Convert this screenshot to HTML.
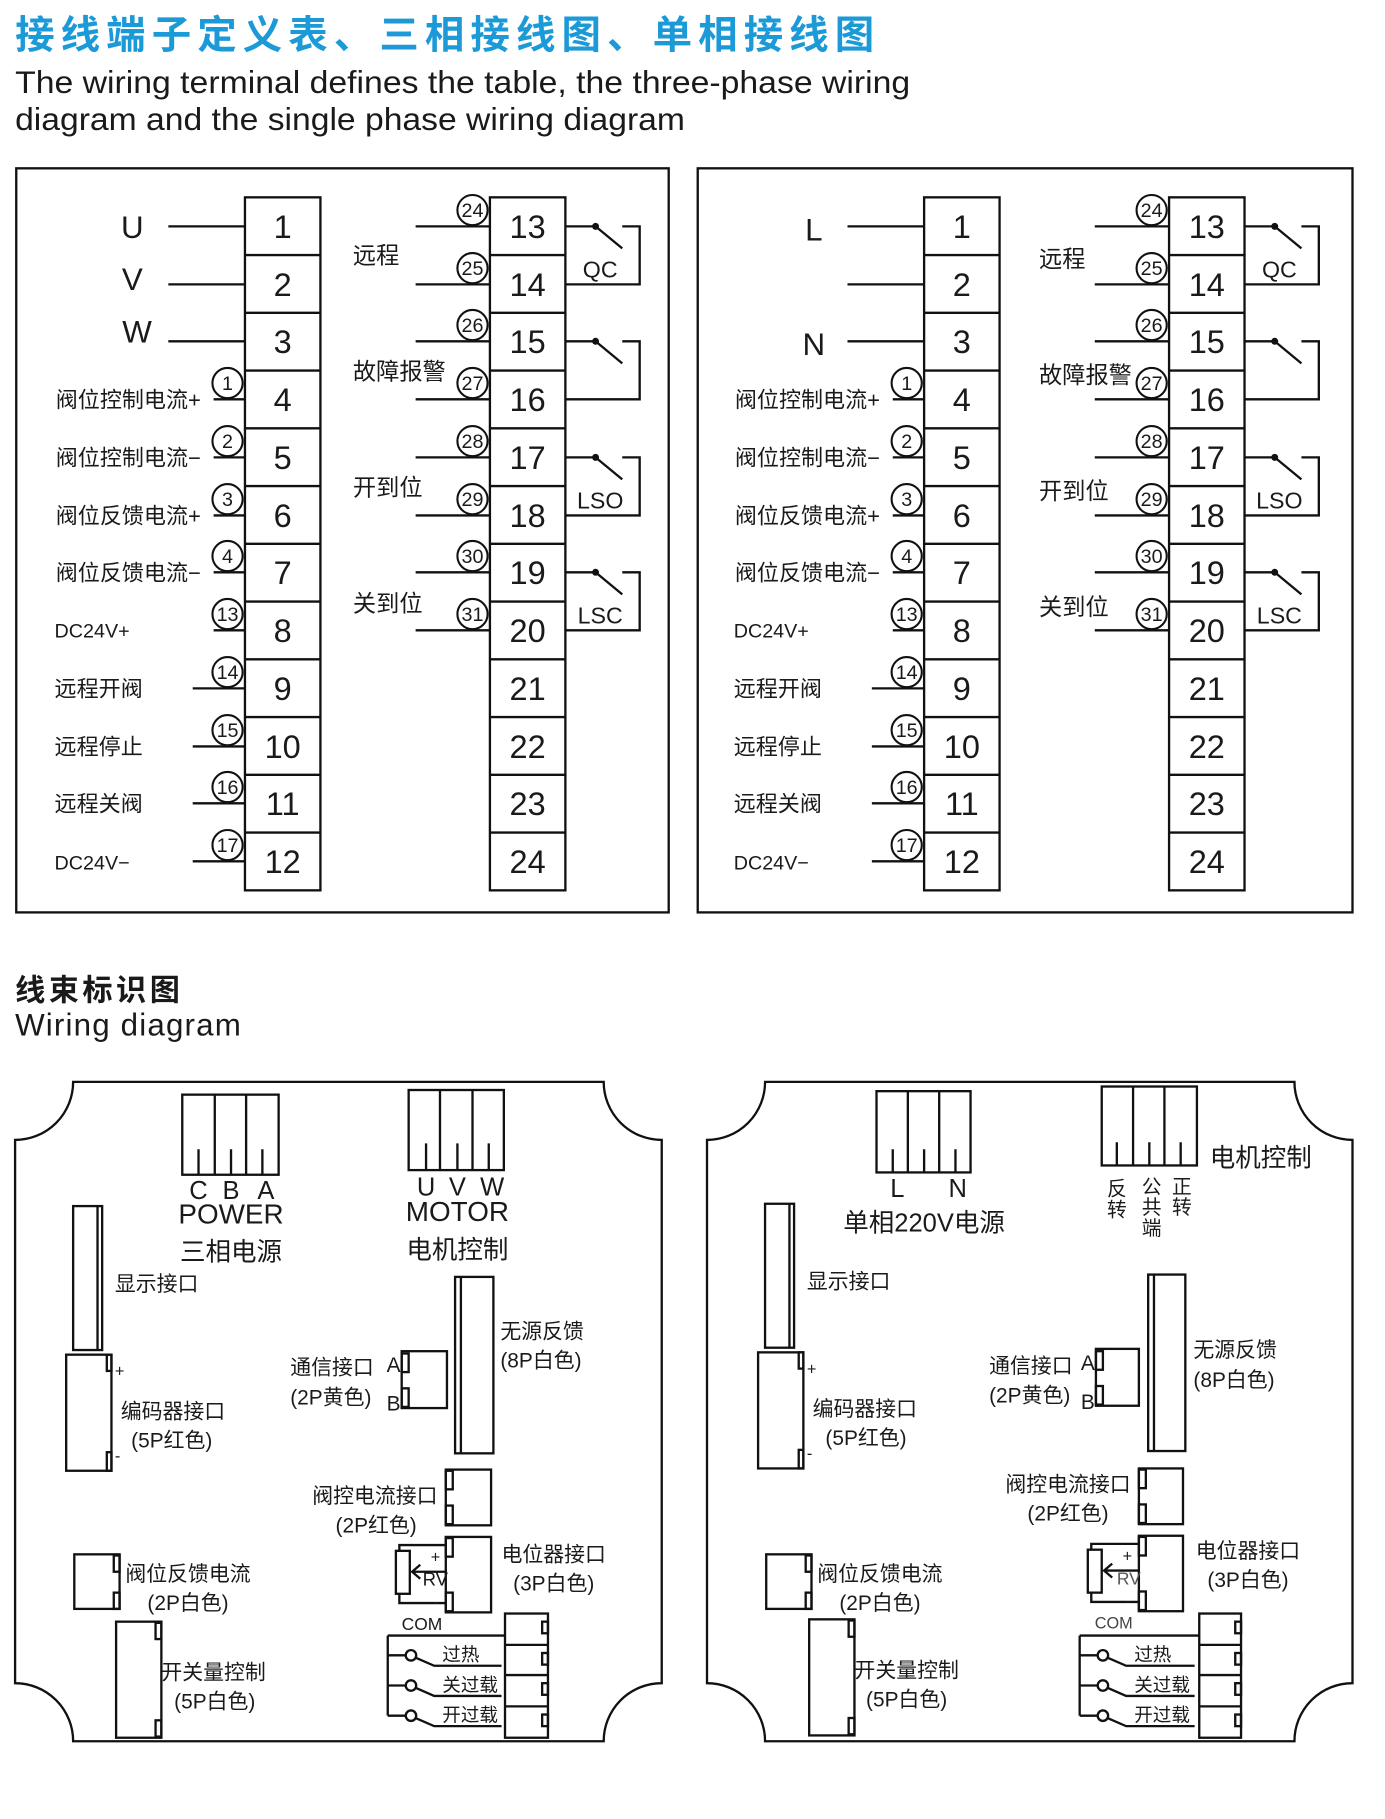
<!DOCTYPE html>
<html><head><meta charset="utf-8"><style>
html,body{margin:0;padding:0;background:#fff;}
svg{display:block;}
text{font-family:"Liberation Sans","Noto Sans CJK SC",sans-serif;fill:#1a1a1a;}
.n{font-size:28px;text-anchor:middle;}
.c{font-size:17px;text-anchor:middle;}
.l{font-size:19px;}
.s{font-size:20px;}
.m{font-size:18px;}
</style></head><body>
<svg width="1385" height="1819" viewBox="0 0 1193 1567" preserveAspectRatio="none" xmlns="http://www.w3.org/2000/svg">
<text x="13" y="42" style="font-size:34px;fill:#1b9ad7;font-weight:bold;letter-spacing:4px" textLength="744">接线端子定义表、三相接线图、单相接线图</text>
<text x="13" y="80" style="font-size:27px" textLength="771" lengthAdjust="spacingAndGlyphs">The wiring terminal defines the table, the three-phase wiring</text>
<text x="13" y="112" style="font-size:27px" textLength="577" lengthAdjust="spacingAndGlyphs">diagram and the single phase wiring diagram</text>

<!-- ============ TABLE 1 ============ -->
<g stroke="#111" stroke-width="2" fill="#fff">
<rect x="14" y="145" width="562" height="641" fill="none"/>
<rect x="211" y="170" width="65" height="597"/>
<rect x="422" y="170" width="65" height="597"/>
</g>
<g stroke="#111" stroke-width="2">
<line x1="211" y1="219.75" x2="276" y2="219.75"/><line x1="211" y1="269.5" x2="276" y2="269.5"/><line x1="211" y1="319.25" x2="276" y2="319.25"/><line x1="211" y1="369" x2="276" y2="369"/><line x1="211" y1="418.75" x2="276" y2="418.75"/><line x1="211" y1="468.5" x2="276" y2="468.5"/><line x1="211" y1="518.25" x2="276" y2="518.25"/><line x1="211" y1="568" x2="276" y2="568"/><line x1="211" y1="617.75" x2="276" y2="617.75"/><line x1="211" y1="667.5" x2="276" y2="667.5"/><line x1="211" y1="717.25" x2="276" y2="717.25"/>
<line x1="422" y1="219.75" x2="487" y2="219.75"/><line x1="422" y1="269.5" x2="487" y2="269.5"/><line x1="422" y1="319.25" x2="487" y2="319.25"/><line x1="422" y1="369" x2="487" y2="369"/><line x1="422" y1="418.75" x2="487" y2="418.75"/><line x1="422" y1="468.5" x2="487" y2="468.5"/><line x1="422" y1="518.25" x2="487" y2="518.25"/><line x1="422" y1="568" x2="487" y2="568"/><line x1="422" y1="617.75" x2="487" y2="617.75"/><line x1="422" y1="667.5" x2="487" y2="667.5"/><line x1="422" y1="717.25" x2="487" y2="717.25"/>
<line x1="145" y1="195" x2="211" y2="195"/><line x1="145" y1="245" x2="211" y2="245"/><line x1="145" y1="294" x2="211" y2="294"/>
<line x1="184" y1="344" x2="211" y2="344"/><line x1="184" y1="394" x2="211" y2="394"/><line x1="184" y1="444" x2="211" y2="444"/><line x1="184" y1="493" x2="211" y2="493"/><line x1="184" y1="543" x2="211" y2="543"/>
<line x1="166" y1="593" x2="211" y2="593"/><line x1="166" y1="643" x2="211" y2="643"/><line x1="166" y1="692" x2="211" y2="692"/><line x1="166" y1="742" x2="211" y2="742"/>
<line x1="358" y1="195" x2="422" y2="195"/><line x1="358" y1="245" x2="422" y2="245"/><line x1="358" y1="294" x2="422" y2="294"/><line x1="358" y1="344" x2="422" y2="344"/><line x1="358" y1="394" x2="422" y2="394"/><line x1="358" y1="444" x2="422" y2="444"/><line x1="358" y1="493" x2="422" y2="493"/><line x1="358" y1="543" x2="422" y2="543"/>
</g>
<g stroke="#111" stroke-width="1.8" fill="#fff">
<circle cx="196" cy="330" r="13"/><circle cx="196" cy="380" r="13"/><circle cx="196" cy="430" r="13"/><circle cx="196" cy="479" r="13"/><circle cx="196" cy="529" r="13"/><circle cx="196" cy="579" r="13"/><circle cx="196" cy="629" r="13"/><circle cx="196" cy="678" r="13"/><circle cx="196" cy="728" r="13"/>
<circle cx="407" cy="181" r="13"/><circle cx="407" cy="231" r="13"/><circle cx="407" cy="280" r="13"/><circle cx="407" cy="330" r="13"/><circle cx="407" cy="380" r="13"/><circle cx="407" cy="430" r="13"/><circle cx="407" cy="479" r="13"/><circle cx="407" cy="529" r="13"/>
</g>
<g>
<text class="c" x="196" y="336">1</text><text class="c" x="196" y="386">2</text><text class="c" x="196" y="436">3</text><text class="c" x="196" y="485">4</text><text class="c" x="196" y="535">13</text><text class="c" x="196" y="585">14</text><text class="c" x="196" y="635">15</text><text class="c" x="196" y="684">16</text><text class="c" x="196" y="734">17</text>
<text class="c" x="407" y="187">24</text><text class="c" x="407" y="237">25</text><text class="c" x="407" y="286">26</text><text class="c" x="407" y="336">27</text><text class="c" x="407" y="386">28</text><text class="c" x="407" y="436">29</text><text class="c" x="407" y="485">30</text><text class="c" x="407" y="535">31</text>
<text class="n" x="243.5" y="205">1</text><text class="n" x="243.5" y="255">2</text><text class="n" x="243.5" y="304">3</text><text class="n" x="243.5" y="354">4</text><text class="n" x="243.5" y="404">5</text><text class="n" x="243.5" y="454">6</text><text class="n" x="243.5" y="503">7</text><text class="n" x="243.5" y="553">8</text><text class="n" x="243.5" y="603">9</text><text class="n" x="243.5" y="653">10</text><text class="n" x="243.5" y="702">11</text><text class="n" x="243.5" y="752">12</text>
<text class="n" x="454.5" y="205">13</text><text class="n" x="454.5" y="255">14</text><text class="n" x="454.5" y="304">15</text><text class="n" x="454.5" y="354">16</text><text class="n" x="454.5" y="404">17</text><text class="n" x="454.5" y="454">18</text><text class="n" x="454.5" y="503">19</text><text class="n" x="454.5" y="553">20</text><text class="n" x="454.5" y="603">21</text><text class="n" x="454.5" y="653">22</text><text class="n" x="454.5" y="702">23</text><text class="n" x="454.5" y="752">24</text>
<text x="114" y="205" style="font-size:27px;text-anchor:middle">U</text><text x="114" y="250" style="font-size:27px;text-anchor:middle">V</text><text x="118" y="295" style="font-size:27px;text-anchor:middle">W</text>
<text class="l" x="48" y="351">阀位控制电流+</text><text class="l" x="48" y="401">阀位控制电流−</text><text class="l" x="48" y="451">阀位反馈电流+</text><text class="l" x="48" y="500">阀位反馈电流−</text>
<text x="47" y="549" style="font-size:17px">DC24V+</text><text class="l" x="47" y="600">远程开阀</text><text class="l" x="47" y="650">远程停止</text><text class="l" x="47" y="699">远程关阀</text><text x="47" y="749" style="font-size:17px">DC24V−</text>
<text class="s" x="304" y="227">远程</text><text class="s" x="304" y="327">故障报警</text><text class="s" x="304" y="427">开到位</text><text class="s" x="304" y="527">关到位</text>
<text class="s" x="517" y="239" text-anchor="middle">QC</text><text class="s" x="517" y="438" text-anchor="middle">LSO</text><text class="s" x="517" y="537" text-anchor="middle">LSC</text>
</g>
<g stroke="#111" stroke-width="2" fill="none">
<path d="M487 195H513L536 214M536 195H551V245H487"/>
<path d="M487 294H513L536 313M536 294H551V344H487"/>
<path d="M487 394H513L536 413M536 394H551V444H487"/>
<path d="M487 493H513L536 512M536 493H551V543H487"/>
</g>
<g fill="#111"><circle cx="513" cy="195" r="3"/><circle cx="513" cy="294" r="3"/><circle cx="513" cy="394" r="3"/><circle cx="513" cy="493" r="3"/></g>

<!-- ============ TABLE 2 ============ -->
<g transform="translate(587,0)">
<g stroke="#111" stroke-width="2" fill="#fff">
<rect x="14" y="145" width="564" height="641" fill="none"/>
<rect x="209" y="170" width="65" height="597"/>
<rect x="420" y="170" width="65" height="597"/>
</g>
<g stroke="#111" stroke-width="2">
<line x1="209" y1="219.75" x2="274" y2="219.75"/><line x1="209" y1="269.5" x2="274" y2="269.5"/><line x1="209" y1="319.25" x2="274" y2="319.25"/><line x1="209" y1="369" x2="274" y2="369"/><line x1="209" y1="418.75" x2="274" y2="418.75"/><line x1="209" y1="468.5" x2="274" y2="468.5"/><line x1="209" y1="518.25" x2="274" y2="518.25"/><line x1="209" y1="568" x2="274" y2="568"/><line x1="209" y1="617.75" x2="274" y2="617.75"/><line x1="209" y1="667.5" x2="274" y2="667.5"/><line x1="209" y1="717.25" x2="274" y2="717.25"/>
<line x1="420" y1="219.75" x2="485" y2="219.75"/><line x1="420" y1="269.5" x2="485" y2="269.5"/><line x1="420" y1="319.25" x2="485" y2="319.25"/><line x1="420" y1="369" x2="485" y2="369"/><line x1="420" y1="418.75" x2="485" y2="418.75"/><line x1="420" y1="468.5" x2="485" y2="468.5"/><line x1="420" y1="518.25" x2="485" y2="518.25"/><line x1="420" y1="568" x2="485" y2="568"/><line x1="420" y1="617.75" x2="485" y2="617.75"/><line x1="420" y1="667.5" x2="485" y2="667.5"/><line x1="420" y1="717.25" x2="485" y2="717.25"/>
<line x1="143" y1="195" x2="209" y2="195"/><line x1="143" y1="245" x2="209" y2="245"/><line x1="143" y1="294" x2="209" y2="294"/>
<line x1="182" y1="344" x2="209" y2="344"/><line x1="182" y1="394" x2="209" y2="394"/><line x1="182" y1="444" x2="209" y2="444"/><line x1="182" y1="493" x2="209" y2="493"/><line x1="182" y1="543" x2="209" y2="543"/>
<line x1="164" y1="593" x2="209" y2="593"/><line x1="164" y1="643" x2="209" y2="643"/><line x1="164" y1="692" x2="209" y2="692"/><line x1="164" y1="742" x2="209" y2="742"/>
<line x1="356" y1="195" x2="420" y2="195"/><line x1="356" y1="245" x2="420" y2="245"/><line x1="356" y1="294" x2="420" y2="294"/><line x1="356" y1="344" x2="420" y2="344"/><line x1="356" y1="394" x2="420" y2="394"/><line x1="356" y1="444" x2="420" y2="444"/><line x1="356" y1="493" x2="420" y2="493"/><line x1="356" y1="543" x2="420" y2="543"/>
</g>
<g stroke="#111" stroke-width="1.8" fill="#fff">
<circle cx="194" cy="330" r="13"/><circle cx="194" cy="380" r="13"/><circle cx="194" cy="430" r="13"/><circle cx="194" cy="479" r="13"/><circle cx="194" cy="529" r="13"/><circle cx="194" cy="579" r="13"/><circle cx="194" cy="629" r="13"/><circle cx="194" cy="678" r="13"/><circle cx="194" cy="728" r="13"/>
<circle cx="405" cy="181" r="13"/><circle cx="405" cy="231" r="13"/><circle cx="405" cy="280" r="13"/><circle cx="405" cy="330" r="13"/><circle cx="405" cy="380" r="13"/><circle cx="405" cy="430" r="13"/><circle cx="405" cy="479" r="13"/><circle cx="405" cy="529" r="13"/>
</g>
<g>
<text class="c" x="194" y="336">1</text><text class="c" x="194" y="386">2</text><text class="c" x="194" y="436">3</text><text class="c" x="194" y="485">4</text><text class="c" x="194" y="535">13</text><text class="c" x="194" y="585">14</text><text class="c" x="194" y="635">15</text><text class="c" x="194" y="684">16</text><text class="c" x="194" y="734">17</text>
<text class="c" x="405" y="187">24</text><text class="c" x="405" y="237">25</text><text class="c" x="405" y="286">26</text><text class="c" x="405" y="336">27</text><text class="c" x="405" y="386">28</text><text class="c" x="405" y="436">29</text><text class="c" x="405" y="485">30</text><text class="c" x="405" y="535">31</text>
<text class="n" x="241.5" y="205">1</text><text class="n" x="241.5" y="255">2</text><text class="n" x="241.5" y="304">3</text><text class="n" x="241.5" y="354">4</text><text class="n" x="241.5" y="404">5</text><text class="n" x="241.5" y="454">6</text><text class="n" x="241.5" y="503">7</text><text class="n" x="241.5" y="553">8</text><text class="n" x="241.5" y="603">9</text><text class="n" x="241.5" y="653">10</text><text class="n" x="241.5" y="702">11</text><text class="n" x="241.5" y="752">12</text>
<text class="n" x="452.5" y="205">13</text><text class="n" x="452.5" y="255">14</text><text class="n" x="452.5" y="304">15</text><text class="n" x="452.5" y="354">16</text><text class="n" x="452.5" y="404">17</text><text class="n" x="452.5" y="454">18</text><text class="n" x="452.5" y="503">19</text><text class="n" x="452.5" y="553">20</text><text class="n" x="452.5" y="603">21</text><text class="n" x="452.5" y="653">22</text><text class="n" x="452.5" y="702">23</text><text class="n" x="452.5" y="752">24</text>
<text x="114" y="207" style="font-size:27px;text-anchor:middle">L</text><text x="114" y="306" style="font-size:27px;text-anchor:middle">N</text>
<text class="l" x="46" y="351">阀位控制电流+</text><text class="l" x="46" y="401">阀位控制电流−</text><text class="l" x="46" y="451">阀位反馈电流+</text><text class="l" x="46" y="500">阀位反馈电流−</text>
<text x="45" y="549" style="font-size:17px">DC24V+</text><text class="l" x="45" y="600">远程开阀</text><text class="l" x="45" y="650">远程停止</text><text class="l" x="45" y="699">远程关阀</text><text x="45" y="749" style="font-size:17px">DC24V−</text>
<text class="s" x="308" y="230">远程</text><text class="s" x="308" y="330">故障报警</text><text class="s" x="308" y="430">开到位</text><text class="s" x="308" y="530">关到位</text>
<text class="s" x="515" y="239" text-anchor="middle">QC</text><text class="s" x="515" y="438" text-anchor="middle">LSO</text><text class="s" x="515" y="537" text-anchor="middle">LSC</text>
</g>
<g stroke="#111" stroke-width="2" fill="none">
<path d="M485 195H511L534 214M534 195H549V245H485"/>
<path d="M485 294H511L534 313M534 294H549V344H485"/>
<path d="M485 394H511L534 413M534 394H549V444H485"/>
<path d="M485 493H511L534 512M534 493H549V543H485"/>
</g>
<g fill="#111"><circle cx="511" cy="195" r="3"/><circle cx="511" cy="294" r="3"/><circle cx="511" cy="394" r="3"/><circle cx="511" cy="493" r="3"/></g>
</g>

<text x="13" y="862" style="font-size:26px;letter-spacing:3px;font-weight:bold">线束标识图</text>
<text x="13" y="892" style="font-size:27px;letter-spacing:1px">Wiring diagram</text>

<!-- ============ PANEL 1 ============ -->
<g stroke="#111" stroke-width="2" fill="none">
<path d="M63 932H520A50 50 0 0 0 570 982V1450A50 50 0 0 0 520 1500H63A50 50 0 0 0 13 1450V982A50 50 0 0 0 63 932Z"/>
<rect x="157" y="943" width="83" height="69"/><path d="M185 943V1012M212 943V1012M171 990V1012M199 990V1012M226 990V1012"/>
<rect x="352" y="939" width="82" height="69"/><path d="M379 939V1008M407 939V1008M367 985V1008M394 985V1008M421 985V1008"/>
<rect x="63" y="1039" width="25" height="124"/><path d="M84 1039V1163"/>
<rect x="57" y="1167" width="39" height="100"/><rect x="92" y="1167" width="4" height="14"/><rect x="92" y="1251" width="4" height="16"/>
<rect x="346" y="1164" width="39" height="49"/><rect x="346" y="1166" width="6" height="16"/><rect x="346" y="1196" width="6" height="16"/>
<rect x="392" y="1100" width="33" height="152"/><path d="M397 1100V1252"/>
<rect x="384" y="1266" width="39" height="48"/><rect x="384" y="1267" width="6" height="16"/><rect x="384" y="1297" width="6" height="16"/>
<rect x="384" y="1324" width="39" height="65"/><rect x="384" y="1325" width="6" height="16"/><rect x="384" y="1372" width="6" height="16"/>
<path d="M384 1331H344V1336M344 1373V1381H384"/><rect x="341" y="1336" width="12" height="37"/>
<path d="M384 1354H355M362 1348L355 1354L362 1360"/>
<rect x="435" y="1390" width="37" height="107"/><path d="M435 1417H472M435 1443H472M435 1470H472"/>
<rect x="467" y="1397" width="5" height="10"/><rect x="467" y="1424" width="5" height="10"/><rect x="467" y="1450" width="5" height="10"/><rect x="467" y="1477" width="5" height="10"/>
<path d="M334 1409H435M334 1409V1478"/>
<path d="M334 1426H350M358 1428L374 1435H432"/><circle cx="354" cy="1426" r="4.5"/>
<path d="M334 1452H350M358 1454L374 1461H432"/><circle cx="354" cy="1452" r="4.5"/>
<path d="M334 1478H350M358 1480L374 1487H432"/><circle cx="354" cy="1478" r="4.5"/>
<rect x="64" y="1339" width="39" height="47"/><rect x="98" y="1340" width="5" height="14"/><rect x="98" y="1372" width="5" height="14"/>
<rect x="100" y="1397" width="39" height="100"/><rect x="134" y="1398" width="5" height="14"/><rect x="134" y="1482" width="5" height="14"/>
</g>
<g>
<text x="171" y="1033" style="font-size:22px;text-anchor:middle">C</text><text x="199" y="1033" style="font-size:22px;text-anchor:middle">B</text><text x="229" y="1033" style="font-size:22px;text-anchor:middle">A</text>
<text x="199" y="1054" style="font-size:24px;text-anchor:middle">POWER</text>
<text x="199" y="1086" style="font-size:22px;text-anchor:middle">三相电源</text>
<text x="367" y="1030" style="font-size:22px;text-anchor:middle">U</text><text x="394" y="1030" style="font-size:22px;text-anchor:middle">V</text><text x="424" y="1030" style="font-size:22px;text-anchor:middle">W</text>
<text x="394" y="1052" style="font-size:24px;text-anchor:middle">MOTOR</text>
<text x="394" y="1084" style="font-size:22px;text-anchor:middle">电机控制</text>
<text class="m" x="99" y="1112">显示接口</text>
<text x="99" y="1186" style="font-size:14px">+</text><text x="99" y="1259" style="font-size:14px">-</text>
<text class="m" x="104" y="1222">编码器接口</text><text class="m" x="113" y="1247">(5P红色)</text>
<text class="m" x="250" y="1184">通信接口</text><text class="m" x="250" y="1210">(2P黄色)</text>
<text class="m" x="333" y="1182">A</text><text class="m" x="333" y="1215">B</text>
<text class="m" x="431" y="1153">无源反馈</text><text class="m" x="431" y="1178">(8P白色)</text>
<text class="m" x="269" y="1295">阀控电流接口</text><text class="m" x="289" y="1320">(2P红色)</text>
<text class="m" x="432" y="1345">电位器接口</text><text class="m" x="442" y="1370">(3P白色)</text>
<text x="371" y="1346" style="font-size:14px">+</text><text x="364" y="1366" style="font-size:16px">RV</text><text x="373" y="1385" style="font-size:14px">-</text>
<text x="346" y="1404" style="font-size:15px">COM</text>
<text x="381" y="1431" style="font-size:16px">过热</text><text x="381" y="1457" style="font-size:16px">关过载</text><text x="381" y="1483" style="font-size:16px">开过载</text>
<text class="m" x="108" y="1362">阀位反馈电流</text><text class="m" x="127" y="1387">(2P白色)</text>
<text class="m" x="139" y="1447">开关量控制</text><text class="m" x="150" y="1472">(5P白色)</text>
</g>

<!-- ============ PANEL 2 ============ -->
<g stroke="#111" stroke-width="2" fill="none">
<path d="M659 932H1115A50 50 0 0 0 1165 982V1450A50 50 0 0 0 1115 1500H659A50 50 0 0 0 609 1450V982A50 50 0 0 0 659 932Z"/>
<rect x="755" y="940" width="81" height="70"/><path d="M782 940V1010M809 940V1010M769 990V1010M796 990V1010M823 990V1010"/>
<rect x="949" y="936" width="82" height="68"/><path d="M976 936V1004M1003 936V1004M962 984V1004M990 984V1004M1017 984V1004"/>
</g>
<g transform="translate(596,-2)">
<g stroke="#111" stroke-width="2" fill="none">
<rect x="63" y="1039" width="25" height="124"/><path d="M84 1039V1163"/>
<rect x="57" y="1167" width="39" height="100"/><rect x="92" y="1167" width="4" height="14"/><rect x="92" y="1251" width="4" height="16"/>
<rect x="348" y="1164" width="37" height="49"/><rect x="348" y="1166" width="6" height="16"/><rect x="348" y="1196" width="6" height="16"/>
<rect x="393" y="1100" width="32" height="152"/><path d="M398 1100V1252"/>
<rect x="385" y="1267" width="38" height="48"/><rect x="385" y="1268" width="6" height="16"/><rect x="385" y="1298" width="6" height="16"/>
<rect x="385" y="1325" width="38" height="65"/><rect x="385" y="1326" width="6" height="16"/><rect x="385" y="1373" width="6" height="16"/>
<path d="M385 1332H344V1337M344 1374V1382H385"/><rect x="341" y="1337" width="12" height="37"/>
<path d="M385 1355H355M362 1349L355 1355L362 1361"/>
<rect x="437" y="1392" width="36" height="107"/><path d="M437 1419H473M437 1445H473M437 1472H473"/>
<rect x="468" y="1399" width="5" height="10"/><rect x="468" y="1426" width="5" height="10"/><rect x="468" y="1452" width="5" height="10"/><rect x="468" y="1479" width="5" height="10"/>
<path d="M334 1411H437M334 1411V1480"/>
<path d="M334 1428H350M358 1430L374 1437H433"/><circle cx="354" cy="1428" r="4.5"/>
<path d="M334 1454H350M358 1456L374 1463H433"/><circle cx="354" cy="1454" r="4.5"/>
<path d="M334 1480H350M358 1482L374 1489H433"/><circle cx="354" cy="1480" r="4.5"/>
<rect x="64" y="1341" width="39" height="47"/><rect x="98" y="1342" width="5" height="14"/><rect x="98" y="1374" width="5" height="14"/>
<rect x="101" y="1397" width="39" height="100"/><rect x="135" y="1398" width="5" height="14"/><rect x="135" y="1482" width="5" height="14"/>
</g>
<g>
<text class="m" x="99" y="1112">显示接口</text>
<text x="99" y="1186" style="font-size:14px">+</text><text x="99" y="1259" style="font-size:14px">-</text>
<text class="m" x="104" y="1222">编码器接口</text><text class="m" x="115" y="1247">(5P红色)</text>
<text class="m" x="256" y="1185">通信接口</text><text class="m" x="256" y="1210">(2P黄色)</text>
<text class="m" x="335" y="1182">A</text><text class="m" x="335" y="1216">B</text>
<text class="m" x="432" y="1171">无源反馈</text><text class="m" x="432" y="1197">(8P白色)</text>
<text class="m" x="270" y="1287">阀控电流接口</text><text class="m" x="289" y="1312">(2P红色)</text>
<text class="m" x="434" y="1344">电位器接口</text><text class="m" x="444" y="1369">(3P白色)</text>
<text x="371" y="1347" style="font-size:14px">+</text><text x="366" y="1367" style="font-size:15px;fill:#555">RV</text><text x="373" y="1386" style="font-size:14px">-</text>
<text x="347" y="1405" style="font-size:14px;fill:#444">COM</text>
<text x="381" y="1433" style="font-size:16px">过热</text><text x="381" y="1459" style="font-size:16px">关过载</text><text x="381" y="1485" style="font-size:16px">开过载</text>
<text class="m" x="108" y="1364">阀位反馈电流</text><text class="m" x="127" y="1389">(2P白色)</text>
<text class="m" x="140" y="1447">开关量控制</text><text class="m" x="150" y="1472">(5P白色)</text>
</g>
</g>
<g>
<text x="773" y="1031" style="font-size:22px;text-anchor:middle">L</text><text x="825" y="1031" style="font-size:22px;text-anchor:middle">N</text>
<text x="796" y="1061" style="font-size:22px;text-anchor:middle">单相220V电源</text>
<text x="1042" y="1005" style="font-size:22px">电机控制</text>
<text x="962" y="1030" style="font-size:17px;text-anchor:middle">反</text><text x="962" y="1048" style="font-size:17px;text-anchor:middle">转</text>
<text x="992" y="1028" style="font-size:17px;text-anchor:middle">公</text><text x="992" y="1046" style="font-size:17px;text-anchor:middle">共</text><text x="992" y="1064" style="font-size:17px;text-anchor:middle">端</text>
<text x="1018" y="1028" style="font-size:17px;text-anchor:middle">正</text><text x="1018" y="1046" style="font-size:17px;text-anchor:middle">转</text>
</g>
</svg>
</body></html>
